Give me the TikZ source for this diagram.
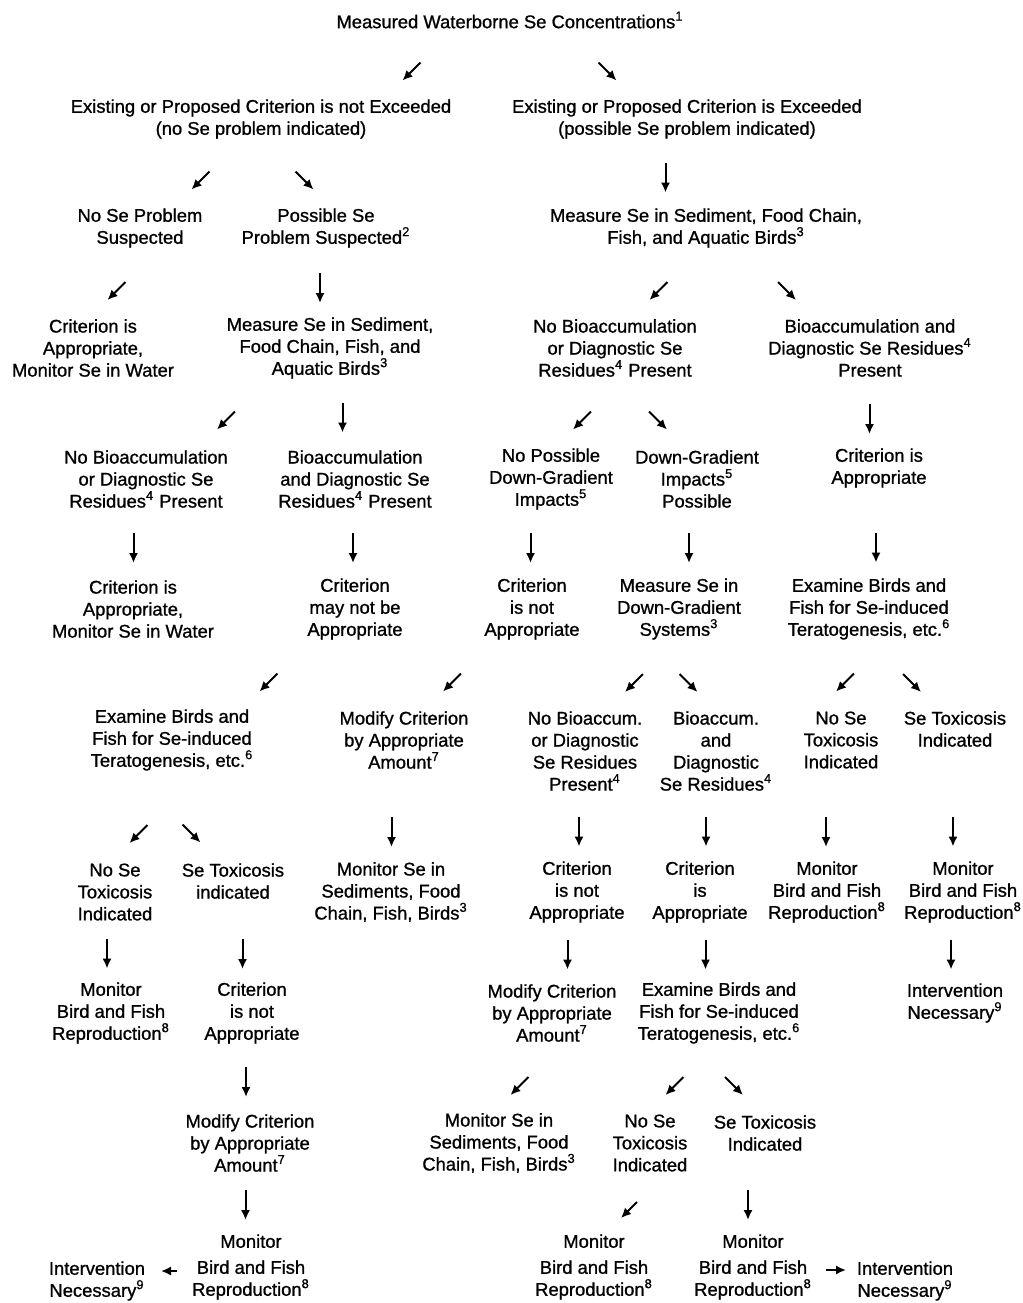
\documentclass[tikz,border=0pt]{standalone}
\usepackage{fontspec}
\setmainfont{Liberation Sans}[BoldFont={Liberation Sans},BoldFeatures={FakeBold=1}]
\usetikzlibrary{arrows.meta,calc}
\tikzset{
  box/.style={align=center,inner sep=0pt,font=\fontsize{9.2}{11}\selectfont\bfseries},
  arr/.style={line width=1pt,-{Latex[length=5pt,width=4.6pt]}},
}
\begin{document}
\begin{tikzpicture}[x=0.5pt,y=-0.5pt]
  \useasboundingbox (0,0) rectangle (1023,1303);
  \node[box] (top) at (510,20) {Measured Waterborne Se Concentrations\textsuperscript{1}};
  \node[box] (nex) at (261,119) {Existing or Proposed Criterion is not Exceeded\\(no Se problem indicated)};
  \node[box] (exc) at (687,119) {Existing or Proposed Criterion is Exceeded\\(possible Se problem indicated)};
  \node[box] (nsp) at (140,228) {No Se Problem\\Suspected};
  \node[box] (psp) at (326,228) {Possible Se\\Problem Suspected\textsuperscript{2}};
  \node[box] (msA) at (706,228) {Measure Se in Sediment, Food Chain,\\Fish, and Aquatic Birds\textsuperscript{3}};
  \node[box] (ciaL) at (93,348) {Criterion is\\Appropriate,\\Monitor Se in Water};
  \node[box] (msB) at (330,348) {Measure Se in Sediment,\\Food Chain, Fish, and\\Aquatic Birds\textsuperscript{3}};
  \node[box] (nbR) at (615,348) {No Bioaccumulation\\or Diagnostic Se\\Residues\textsuperscript{4} Present};
  \node[box] (baR) at (870,348) {Bioaccumulation and\\Diagnostic Se Residues\textsuperscript{4}\\Present};
  \node[box] (nbL) at (146,479) {No Bioaccumulation\\or Diagnostic Se\\Residues\textsuperscript{4} Present};
  \node[box] (baL) at (355,479) {Bioaccumulation\\and Diagnostic Se\\Residues\textsuperscript{4} Present};
  \node[box] (npd) at (551,479) {No Possible\\Down-Gradient\\Impacts\textsuperscript{5}};
  \node[box] (dgp) at (697,479) {Down-Gradient\\Impacts\textsuperscript{5}\\Possible};
  \node[box] (ciaR) at (879,468) {Criterion is\\Appropriate};
  \node[box] (ciaL2) at (133,609) {Criterion is\\Appropriate,\\Monitor Se in Water};
  \node[box] (cmn) at (355,609) {Criterion\\may not be\\Appropriate};
  \node[box] (cnaA) at (532,609) {Criterion\\is not\\Appropriate};
  \node[box] (msd) at (679,609) {Measure Se in\\Down-Gradient\\Systems\textsuperscript{3}};
  \node[box] (ebR) at (869,609) {Examine Birds and\\Fish for Se-induced\\Teratogenesis, etc.\textsuperscript{6}};
  \node[box] (ebL) at (172,740) {Examine Birds and\\Fish for Se-induced\\Teratogenesis, etc.\textsuperscript{6}};
  \node[box] (mcA) at (404,740) {Modify Criterion\\by Appropriate\\Amount\textsuperscript{7}};
  \node[box] (nbd) at (585,751) {No Bioaccum.\\or Diagnostic\\Se Residues\\Present\textsuperscript{4}};
  \node[box] (bad) at (716,751) {Bioaccum.\\and\\Diagnostic\\Se Residues\textsuperscript{4}};
  \node[box] (nstR) at (841,740) {No Se\\Toxicosis\\Indicated};
  \node[box] (stR) at (955,729) {Se Toxicosis\\Indicated};
  \node[box] (nstL) at (115,892) {No Se\\Toxicosis\\Indicated};
  \node[box] (stL) at (233,881) {Se Toxicosis\\indicated};
  \node[box] (msf) at (391,892) {Monitor Se in\\Sediments, Food\\Chain, Fish, Birds\textsuperscript{3}};
  \node[box] (cnaB) at (577,892) {Criterion\\is not\\Appropriate};
  \node[box] (cis) at (700,892) {Criterion\\is\\Appropriate};
  \node[box] (mbfA) at (827,892) {Monitor\\Bird and Fish\\Reproduction\textsuperscript{8}};
  \node[box] (mbfB) at (963,892) {Monitor\\Bird and Fish\\Reproduction\textsuperscript{8}};
  \node[box] (mbfL) at (111,1013) {Monitor\\Bird and Fish\\Reproduction\textsuperscript{8}};
  \node[box] (cnaL) at (252,1013) {Criterion\\is not\\Appropriate};
  \node[box] (mcB) at (552,1013) {Modify Criterion\\by Appropriate\\Amount\textsuperscript{7}};
  \node[box] (ebM) at (719,1013) {Examine Birds and\\Fish for Se-induced\\Teratogenesis, etc.\textsuperscript{6}};
  \node[box] (intR) at (955,1003) {Intervention\\Necessary\textsuperscript{9}};
  \node[box] (mcL) at (250,1143) {Modify Criterion\\by Appropriate\\Amount\textsuperscript{7}};
  \node[box] (msf2) at (499,1143) {Monitor Se in\\Sediments, Food\\Chain, Fish, Birds\textsuperscript{3}};
  \node[box] (nstM) at (650,1143) {No Se\\Toxicosis\\Indicated};
  \node[box] (stM) at (765,1133) {Se Toxicosis\\Indicated};
  \node[box] (mbfL2) at (251,1267) {Monitor\\[2pt]Bird and Fish\\Reproduction\textsuperscript{8}};
  \node[box] (intL) at (97,1281) {Intervention\\Necessary\textsuperscript{9}};
  \node[box] (mbfM1) at (594,1267) {Monitor\\[2pt]Bird and Fish\\Reproduction\textsuperscript{8}};
  \node[box] (mbfM2) at (753,1267) {Monitor\\[2pt]Bird and Fish\\Reproduction\textsuperscript{8}};
  \node[box] (intR2) at (905,1281) {Intervention\\Necessary\textsuperscript{9}};
  \draw[arr] ($(top)!.5!(nex)+(26,2)$) +(9,-9) -- +(-9,9);
  \draw[arr] ($(top)!.5!(exc)+(9,2)$) +(-9,-9) -- +(9,9);
  \draw[arr] ($(nex)!.5!(nsp)+(0,7)$) +(9,-9) -- +(-9,9);
  \draw[arr] ($(nex)!.5!(psp)+(11,7)$) +(-9,-9) -- +(9,9);
  \draw[arr] ($(exc)!.5!(msA)+(-31,4)$) +(0,-15) -- +(0,15);
  \draw[arr] ($(nsp)!.5!(ciaL)+(0,3)$) +(9,-9) -- +(-9,9);
  \draw[arr] ($(psp)!.5!(msB)+(-8,0)$) +(0,-15) -- +(0,15);
  \draw[arr] ($(msA)!.5!(nbR)+(-2,3)$) +(9,-9) -- +(-9,9);
  \draw[arr] ($(msA)!.5!(baR)+(-1,3)$) +(-9,-9) -- +(9,9);
  \draw[arr] ($(msB)!.5!(nbL)+(-12,7)$) +(9,-9) -- +(-9,9);
  \draw[arr] ($(msB)!.5!(baL)+(0,4)$) +(0,-15) -- +(0,15);
  \draw[arr] ($(nbR)!.5!(npd)+(-1,7)$) +(9,-9) -- +(-9,9);
  \draw[arr] ($(nbR)!.5!(dgp)+(2,7)$) +(-9,-9) -- +(9,9);
  \draw[arr] ($(baR)!.5!(ciaR)+(-5,11)$) +(0,-15) -- +(0,15);
  \draw[arr] ($(nbL)!.5!(ciaL2)+(-6,4)$) +(0,-15) -- +(0,15);
  \draw[arr] ($(baL)!.5!(cmn)+(-2,4)$) +(0,-15) -- +(0,15);
  \draw[arr] ($(npd)!.5!(cnaA)+(-11,4)$) +(0,-15) -- +(0,15);
  \draw[arr] ($(dgp)!.5!(msd)+(1,4)$) +(0,-15) -- +(0,15);
  \draw[arr] ($(ciaR)!.5!(ebR)+(2,9)$) +(0,-15) -- +(0,15);
  \draw[arr] ($(cmn)!.5!(ebL)+(5,8)$) +(9,-9) -- +(-9,9);
  \draw[arr] ($(cnaA)!.5!(mcA)+(-16,8)$) +(9,-9) -- +(-9,9);
  \draw[arr] ($(msd)!.5!(nbd)+(2,3)$) +(9,-9) -- +(-9,9);
  \draw[arr] ($(msd)!.5!(bad)+(-9,3)$) +(-9,-9) -- +(9,9);
  \draw[arr] ($(ebR)!.5!(nstR)+(-10,8)$) +(9,-9) -- +(-9,9);
  \draw[arr] ($(ebR)!.5!(stR)+(0,14)$) +(-9,-9) -- +(9,9);
  \draw[arr] ($(ebL)!.5!(nstL)+(-5,18)$) +(9,-9) -- +(-9,9);
  \draw[arr] ($(ebL)!.5!(stL)+(-11,23)$) +(-9,-9) -- +(9,9);
  \draw[arr] ($(mcA)!.5!(msf)+(-6,16)$) +(0,-15) -- +(0,15);
  \draw[arr] ($(nbd)!.5!(cnaB)+(-2,10)$) +(0,-15) -- +(0,15);
  \draw[arr] ($(bad)!.5!(cis)+(-2,10)$) +(0,-15) -- +(0,15);
  \draw[arr] ($(nstR)!.5!(mbfA)+(-8,16)$) +(0,-15) -- +(0,15);
  \draw[arr] ($(stR)!.5!(mbfB)+(-6,21)$) +(0,-15) -- +(0,15);
  \draw[arr] ($(nstL)!.5!(mbfL)+(-6,1)$) +(0,-15) -- +(0,15);
  \draw[arr] ($(stL)!.5!(cnaL)+(0,7)$) +(0,-15) -- +(0,15);
  \draw[arr] ($(cnaB)!.5!(mcB)+(3,2)$) +(0,-15) -- +(0,15);
  \draw[arr] ($(cis)!.5!(ebM)+(-4,2)$) +(0,-15) -- +(0,15);
  \draw[arr] ($(mbfB)!.5!(intR)+(-8,7)$) +(0,-15) -- +(0,15);
  \draw[arr] ($(cnaL)!.5!(mcL)+(-5,4)$) +(0,-15) -- +(0,15);
  \draw[arr] ($(mcB)!.5!(msf2)+(-6,8)$) +(9,-9) -- +(-9,9);
  \draw[arr] ($(ebM)!.5!(nstM)+(-10,8)$) +(9,-9) -- +(-9,9);
  \draw[arr] ($(ebM)!.5!(stM)+(-8,13)$) +(-9,-9) -- +(9,9);
  \draw[arr] ($(mcL)!.5!(mbfL2)+(-5,0)$) +(0,-15) -- +(0,15);
  \draw[arr] ($(nstM)!.5!(mbfM1)+(7,5)$) +(8,-8) -- +(-8,8);
  \draw[arr] ($(stM)!.5!(mbfM2)+(-11,5)$) +(0,-15) -- +(0,15);
  \draw[arr] ($(mbfL2)!.5!(intL)+(-5,-3)$) +(8,0) -- +(-8,0);
  \draw[arr] ($(mbfM2)!.5!(intR2)+(7,-4)$) +(-10,0) -- +(10,0);
\end{tikzpicture}
\end{document}
